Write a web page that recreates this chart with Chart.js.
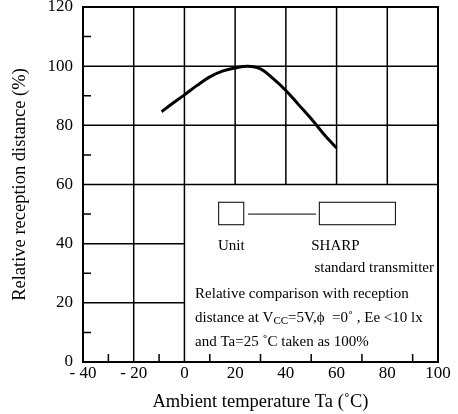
<!DOCTYPE html>
<html>
<head>
<meta charset="utf-8">
<script src="https://cdn.jsdelivr.net/npm/chart.js@4/dist/chart.umd.min.js"></script>
<style>
  html, body { margin: 0; padding: 0; background: #fff; }
  #wrap { width: 458px; height: 414px; }
</style>
</head>
<body>
<div id="wrap"><canvas id="chart" width="458" height="414"></canvas></div>
<script>
'use strict';

// Curve (Ta in degC, relative distance in %)
var temps = [-9, -5, 0, 5, 10, 15, 20, 25, 30, 35, 40, 45, 50, 55, 60];
var distance = [84.6, 87.2, 90.3, 93.5, 96.4, 98.3, 99.4, 100, 99.1, 95.8, 91.8, 87, 82.2, 77, 72.3];

var xMajor = [-40, -20, 0, 20, 40, 60, 80, 100];
var xMinor = [-30, -10, 10, 30, 50, 70, 90];
var yMajor = [0, 20, 40, 60, 80, 100, 120];
var yMinor = [10, 30, 50, 70, 90, 110];

var serif = '"Liberation Serif", "DejaVu Serif", serif';

var points = temps.map(function (t, i) { return { x: t, y: distance[i] }; });

// Grid, frame and the note box, drawn through the chart's own scales
var paperPlugin = {
    id: 'paper',
    beforeDatasetsDraw: function (chart) {
        var ctx = chart.ctx;
        var xs = chart.scales.x, ys = chart.scales.y;
        var a = chart.chartArea;
        var x0 = xs.getPixelForValue(0);
        var y60 = ys.getPixelForValue(60);

        ctx.save();
        ctx.strokeStyle = '#000';
        ctx.lineWidth = 1.5;
        ctx.beginPath();
        // vertical grid lines (the ones right of 0 stop at 60 %)
        xMajor.forEach(function (v) {
            if (v <= -40 || v >= 100) return;
            var px = xs.getPixelForValue(v);
            ctx.moveTo(px, a.top);
            ctx.lineTo(px, v > 0 ? y60 : a.bottom);
        });
        // horizontal grid lines (below 60 % they stop at 0 degC)
        yMajor.forEach(function (v) {
            if (v <= 0 || v >= 120) return;
            var py = ys.getPixelForValue(v);
            ctx.moveTo(a.left, py);
            ctx.lineTo(v < 60 ? x0 : a.right, py);
        });
        ctx.stroke();

        // minor ticks
        ctx.beginPath();
        xMinor.forEach(function (v) {
            var px = xs.getPixelForValue(v);
            ctx.moveTo(px, a.bottom);
            ctx.lineTo(px, a.bottom - 8);
        });
        yMinor.forEach(function (v) {
            var py = ys.getPixelForValue(v);
            ctx.moveTo(a.left, py);
            ctx.lineTo(a.left + 8, py);
        });
        ctx.stroke();

        // frame
        ctx.lineWidth = 2;
        ctx.strokeRect(a.left, a.top, a.right - a.left, a.bottom - a.top);

        // note: unit / transmitter boxes
        ctx.lineWidth = 1;
        var bx = function (v) { return xs.getPixelForValue(v); };
        var by = function (v) { return ys.getPixelForValue(v); };
        ctx.strokeRect(bx(13.5), by(54), bx(23.4) - bx(13.5), by(46.4) - by(54));
        ctx.strokeRect(bx(53.2), by(54), bx(83.2) - bx(53.2), by(46.4) - by(54));
        ctx.beginPath();
        ctx.moveTo(bx(25.1), by(50));
        ctx.lineTo(bx(51.9), by(50));
        ctx.stroke();

        ctx.fillStyle = '#000';
        ctx.font = '15px ' + serif;
        ctx.textBaseline = 'middle';
        ctx.textAlign = 'left';
        ctx.fillText('Unit', bx(13.2), by(39.1));
        ctx.fillText('SHARP', bx(50.0), by(39.1));
        ctx.textAlign = 'right';
        ctx.fillText('standard transmitter', a.right - 4, by(31.7));
        ctx.textAlign = 'left';
        var tx = bx(4.2);
        ctx.fillText('Relative comparison with reception', tx, by(22.9));

        var yy = by(14.8);
        var s1 = 'distance at V';
        ctx.fillText(s1, tx, yy);
        var w = tx + ctx.measureText(s1).width;
        ctx.font = '11px ' + serif;
        ctx.fillText('CC', w, yy + 3);
        w += ctx.measureText('CC').width;
        ctx.font = '15px ' + serif;
        ctx.fillText('=5V,\u03d5  =0\u02da , Ee <10 lx', w, yy);

        ctx.fillText('and Ta=25 \u02daC taken as 100%', tx, by(6.7));
        ctx.restore();
    }
};

var chart = new Chart(document.getElementById('chart').getContext('2d'), {
    type: 'line',
    data: {
        datasets: [{
            data: points,
            borderColor: '#000',
            borderWidth: 3,
            pointRadius: 0,
            fill: false,
            tension: 0.4
        }]
    },
    options: {
        responsive: false,
        animation: false,
        devicePixelRatio: 1,
        layout: { padding: { left: 0, top: 7, right: 20, bottom: 0 } },
        plugins: {
            legend: { display: false },
            tooltip: { enabled: false }
        },
        scales: {
            x: {
                type: 'linear',
                min: -40,
                max: 100,
                afterBuildTicks: function (scale) {
                    scale.ticks = xMajor.map(function (v) { return { value: v }; });
                },
                afterFit: function (scale) {
                    scale.height = 52;
                    scale.paddingLeft = 0;
                    scale.paddingRight = 0;
                },
                grid: { display: false, drawTicks: false },
                border: { display: false },
                ticks: {
                    color: '#000',
                    padding: 1,
                    maxRotation: 0,
                    font: { family: serif, size: 17 },
                    callback: function (v) { return v < 0 ? '- ' + Math.abs(v) : String(v); }
                },
                title: {
                    display: true,
                    text: 'Ambient temperature Ta (\u02daC)',
                    color: '#000',
                    font: { family: serif, size: 18.5 },
                    padding: { top: 0, bottom: 1 }
                }
            },
            y: {
                min: 0,
                max: 120,
                afterBuildTicks: function (scale) {
                    scale.ticks = yMajor.map(function (v) { return { value: v }; });
                },
                afterFit: function (scale) {
                    scale.width = 83;
                    scale.paddingTop = 0;
                    scale.paddingBottom = 0;
                },
                grid: { display: false, drawTicks: false },
                border: { display: false },
                ticks: {
                    color: '#000',
                    padding: 10,
                    font: { family: serif, size: 17 }
                },
                title: {
                    display: true,
                    text: 'Relative reception distance (%)',
                    color: '#000',
                    font: { family: serif, size: 18.5 },
                    padding: { top: 9, bottom: 0 }
                }
            }
        }
    },
    plugins: [paperPlugin]
});
</script>
</body>
</html>
